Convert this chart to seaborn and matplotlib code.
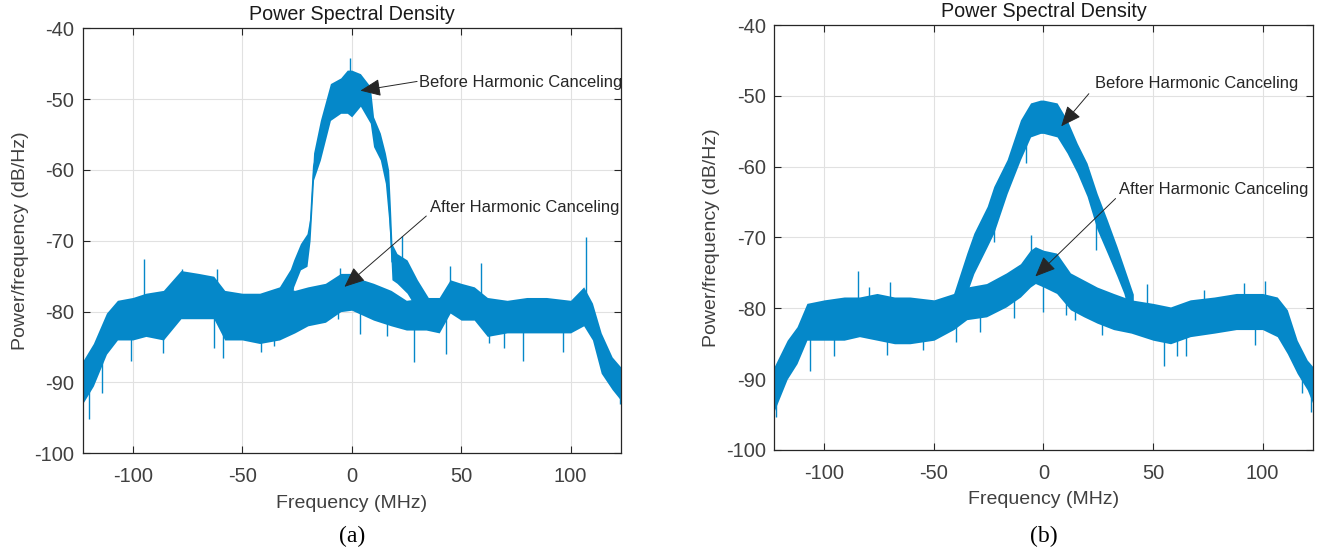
import numpy as np
import pandas as pd
import seaborn as sns
import matplotlib.pyplot as plt

# ---- (a) after harmonic canceling: band (lo / hi in dB/Hz)
a_after_f = [-122.9, -118, -112, -107, -100, -94, -86, -78, -70, -63, -58, -50, -42, -33, -26,
             -20, -12, -5, 0, 5, 10, 18, 25, 34, 40, 45, 50, 56, 62, 71, 80, 89, 100, 106,
             110, 114, 119, 122.9]
a_after_lo = [-93, -90.5, -86, -84, -84, -83.5, -84, -81, -81, -81, -84, -84, -84.5, -84, -83,
              -82, -81.5, -80, -79.8, -80.5, -81.2, -82, -82.6, -82.6, -83, -80.2, -81.2, -81.2,
              -83.5, -83, -83, -83, -83, -82, -84, -88.7, -91, -92.5]
a_after_hi = [-87, -84.5, -80.2, -78.4, -78, -77.4, -77, -74.2, -74.6, -75, -77, -77.4, -77.4,
              -76.5, -77, -76.5, -76, -74.6, -74.6, -75.5, -76, -77, -78.4, -78, -78, -75.5, -76,
              -76.5, -78, -78.4, -78, -78, -78.4, -76.5, -78.8, -83, -86.4, -87.8]

# ---- (a) before harmonic canceling (only the part that stands out of the floor)
a_before_f = [-33, -28, -26.5, -23.4, -20.4, -19, -17.4, -14.3, -9.7, -5, -2, 0, 4, 8.5, 10,
              13.1, 15.4, 16.9, 17.7, 18.4, 20.7, 25.3, 30, 35]
a_before_lo = [-84, -80, -76.5, -74.1, -73.6, -70, -61.4, -58.6, -53, -52, -52, -52.5, -51,
               -53.4, -56.7, -58.6, -61.9, -67, -70.8, -75.5, -76, -77.4, -79.8, -82.5]
a_before_hi = [-76.5, -74, -72.7, -70.4, -69, -66.6, -57.6, -53, -47.8, -47, -45.9, -45.9,
               -46.4, -48.2, -52.5, -54.8, -57.6, -60, -65.2, -70.4, -71.8, -72.7, -75.5, -78]

# single spikes sticking out of each band (freq, value)
a_after_spike_f = [-120.0, -114.2, -100.9, -94.8, -86.4, -77.3, -62.8, -61.3, -59.0, -41.5,
                   -35.4, -6.4, -5.2, 3.8, 16.3, 28.7, 43.2, 45.1, 59.3, 62.6, 69.5, 78.3,
                   96.4, 107.1, 122.6]
a_after_spike_v = [-95.2, -91.5, -87.0, -72.6, -85.9, -74.0, -85.2, -74.0, -86.5, -85.7,
                   -84.9, -81.1, -73.8, -83.1, -83.4, -87.1, -86.0, -73.5, -73.1, -84.4,
                   -85.1, -87.0, -85.7, -69.4, -93.1]
a_before_spike_f = [-0.9, 23.1]
a_before_spike_v = [-44.2, -69.3]

# ---- (b)
b_after_f = [-122.9, -117, -112.5, -108, -100, -91, -84, -76, -68, -61, -50, -41, -35, -26,
             -17, -10.5, -6, -3.7, 0, 6, 12.3, 18.4, 24.5, 32, 40, 50, 58, 67, 78, 88, 100,
             106.7, 111.3, 115.8, 120.4, 122.9]
b_after_lo = [-94.5, -90, -87.8, -84.5, -84.5, -84.5, -84, -84.5, -85, -85, -84.5, -83, -81.6,
              -81.2, -79.8, -78.4, -77, -76.5, -77, -77.9, -80.2, -81.2, -82.1, -83, -83.5,
              -84.5, -85, -84, -83.5, -83, -83, -84, -86.4, -89.2, -91.5, -93.4]
b_after_hi = [-88.2, -84.5, -82.6, -79.3, -78.8, -78.4, -78.4, -77.9, -78.4, -78.4, -78.8,
              -77.9, -77, -76.5, -75, -73.7, -71.8, -71.3, -71.8, -72.2, -75, -76, -77, -77.9,
              -78.8, -79.3, -79.8, -78.8, -78.4, -77.9, -77.9, -78.4, -80.2, -84.5, -87.3, -88.2]

b_before_f = [-41, -35, -31.8, -25.7, -22.7, -16.6, -10.5, -5.9, -1.4, 0, 6.2, 10.8, 15.4,
              19.9, 24.5, 29.1, 33.6, 36.7, 41]
b_before_lo = [-83, -77.9, -75.1, -71.3, -69.4, -63.8, -59, -55.8, -55.3, -55.3, -55.8, -58.1,
               -60.9, -64.2, -68.9, -72.2, -75.5, -77.9, -83]
b_before_hi = [-77.9, -72.2, -69.4, -65.6, -62.8, -59, -53.4, -51, -50.6, -50.6, -51, -53.4,
               -56.7, -59.5, -63.8, -67.5, -71.3, -74.1, -78]

b_after_spike_f = [-122.3, -106.6, -95.6, -84.9, -79.6, -71.5, -70.0, -55.2, -39.9, -29.1,
                   -13.3, -5.9, -0.3, 10.2, 14.4, 26.6, 47.4, 55.0, 61.1, 64.9, 73.3, 91.5,
                   96.4, 101.1, 117.8, 122.3]
b_after_spike_v = [-95.3, -88.9, -86.7, -74.8, -77.0, -86.6, -76.3, -85.9, -84.7, -83.3,
                   -81.3, -69.7, -80.5, -80.9, -81.6, -83.8, -76.5, -88.2, -86.8, -86.8,
                   -77.4, -76.4, -85.2, -76.2, -92.0, -94.7]
b_before_spike_f = [-22.7, -8.2, 23.9]
b_before_spike_v = [-70.6, -59.5, -71.8]

# annotation text, arrow tail, arrow head (MHz, dB/Hz)
a_notes = [("Before Harmonic Canceling", (30.9, -47.7), (29.9, -47.5), (4.0, -48.8)),
           ("After Harmonic Canceling", (35.6, -65.35), (34.1, -66.5), (-3.3, -76.5))]
b_notes = [("Before Harmonic Canceling", (23.7, -48.3), (20.7, -49.7), (8.1, -54.3)),
           ("After Harmonic Canceling", (34.4, -63.2), (32.9, -64.5), (-3.7, -75.5))]

BLUE = '#0588c9'
DARK = '#262626'
TICK = '#404040'

sns.set_theme(style='whitegrid')
plt.rcParams['font.family'] = ['Liberation Sans', 'DejaVu Sans']
plt.rcParams['axes.unicode_minus'] = False


def band_frame(f, lo, hi):
    return pd.DataFrame({'freq': list(f) + list(f), 'psd': list(lo) + list(hi)})


def draw_trace(ax, f, lo, hi, spike_f, spike_v):
    sns.lineplot(data=band_frame(f, lo, hi), x='freq', y='psd', estimator='mean',
                 errorbar=('pi', 100), color=BLUE, lw=0.9,
                 err_kws={'alpha': 1.0, 'linewidth': 0}, ax=ax)
    # spikes start from the middle of their own band
    mid = (np.array(lo) + np.array(hi)) / 2
    base = np.interp(spike_f, f, mid)
    ax.vlines(spike_f, base, spike_v, color=BLUE, lw=1.0)


def draw_panel(ax, traces, notes, letter):
    for tr in traces:
        draw_trace(ax, *tr)

    for text, tpos, tail, head in notes:
        ax.annotate('', xy=head, xytext=tail,
                    arrowprops=dict(arrowstyle='-|>,head_length=0.7,head_width=0.3',
                                    color=DARK, lw=0.7, mutation_scale=18,
                                    shrinkA=0, shrinkB=0))
        ax.text(tpos[0], tpos[1], text, ha='left', va='center', fontsize=11.9, color=DARK)

    ax.set_xlim(-122.88, 122.88)
    ax.set_ylim(-100, -40)
    ax.set_xticks([-100, -50, 0, 50, 100])
    ax.set_yticks([-100, -90, -80, -70, -60, -50, -40])
    ax.grid(True, color='#e1e1e1', lw=0.8)
    ax.tick_params(axis='both', direction='in', length=5, width=0.8, colors=DARK,
                   labelcolor=TICK, labelsize=14.5, top=True, right=True,
                   bottom=True, left=True)
    ax.tick_params(axis='x', pad=10)
    ax.tick_params(axis='y', pad=6)
    for s in ax.spines.values():
        s.set_visible(True)
        s.set_color(DARK)
        s.set_linewidth(0.9)
    ax.set_title('Power Spectral Density', fontsize=14.2, color='#1a1a1a', pad=6)
    ax.set_xlabel('Frequency (MHz)', fontsize=14, color=TICK, labelpad=6)
    ax.set_ylabel('Power/frequency (dB/Hz)', fontsize=14, color=TICK, labelpad=4)
    pos = ax.get_position()
    ax.figure.text((pos.x0 + pos.x1) / 2, 1 - 536 / 552, letter, ha='center', va='center',
                   fontsize=17, family='Liberation Serif', color='black')


fig = plt.figure(figsize=(13.27, 5.52), dpi=100)
ax1 = fig.add_axes([0.0623, 0.1788, 0.4054, 0.7699])
ax2 = fig.add_axes([0.5835, 0.1848, 0.4057, 0.7699])

draw_panel(ax1, [(a_after_f, a_after_lo, a_after_hi, a_after_spike_f, a_after_spike_v),
                 (a_before_f, a_before_lo, a_before_hi, a_before_spike_f, a_before_spike_v)],
           a_notes, '(a)')
draw_panel(ax2, [(b_after_f, b_after_lo, b_after_hi, b_after_spike_f, b_after_spike_v),
                 (b_before_f, b_before_lo, b_before_hi, b_before_spike_f, b_before_spike_v)],
           b_notes, '(b)')

fig.savefig('out.png', dpi=100)
